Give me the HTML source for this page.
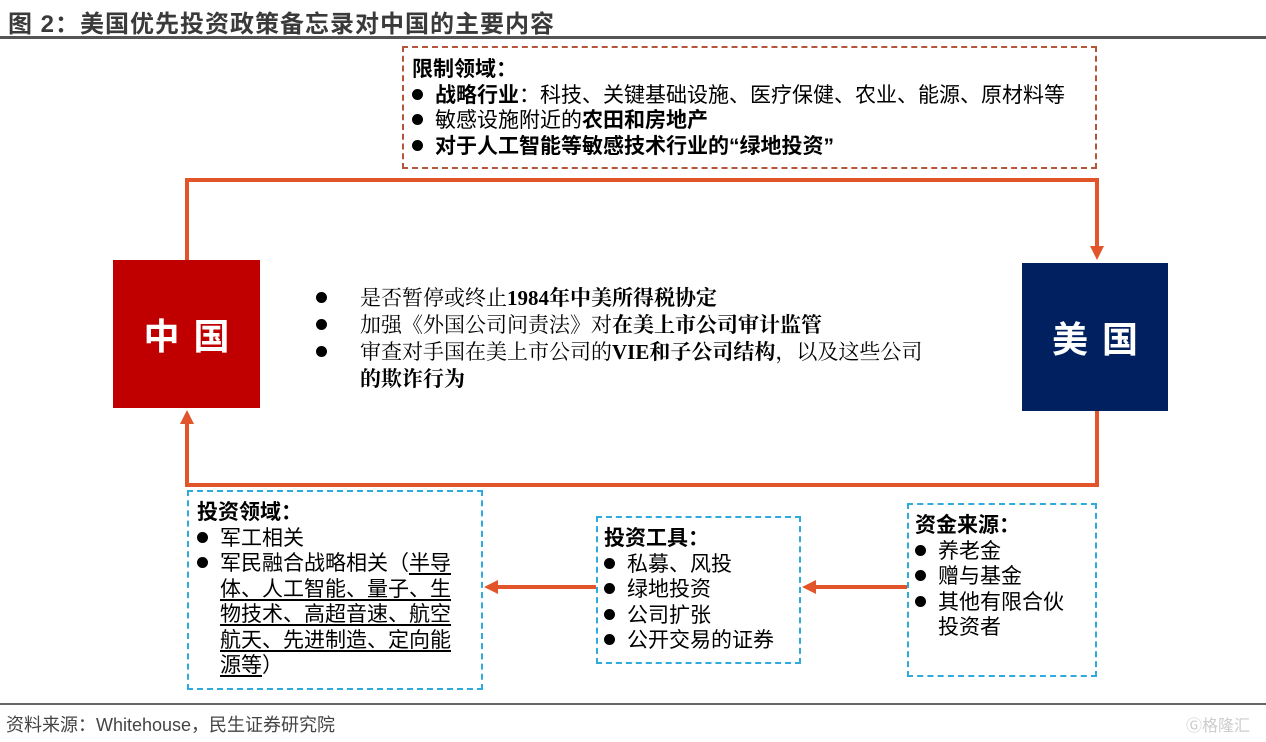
<!DOCTYPE html>
<html><head><meta charset="utf-8"><style>
body{margin:0;width:1266px;height:742px;background:#fff;position:relative;overflow:hidden;font-family:"Liberation Sans","Noto Sans CJK SC",sans-serif;color:#000}
.a{position:absolute}
.title{left:8px;top:4px;font-size:24px;font-weight:bold;color:#3a3a3a;white-space:nowrap;letter-spacing:1px}
.box{position:absolute;box-sizing:border-box}
.t{font-size:21px;line-height:25.5px;white-space:nowrap}
.b{font-weight:bold}
.bl{display:inline-block;width:11px;height:11px;border-radius:50%;background:#000;margin-right:12px;vertical-align:2px}
.serif{font-family:"Liberation Serif","Noto Serif CJK SC",serif;font-size:21px;line-height:27px;white-space:nowrap}
u{text-underline-offset:3px}
</style></head><body>
<div class="a title">图 2：美国优先投资政策备忘录对中国的主要内容</div>
<div class="a" style="left:0;top:36px;width:1266px;height:3px;background:#555"></div>

<div class="box" style="left:402px;top:46px;width:695px;height:123px;border:2px dashed #b5553a;padding:9px 0 0 8px">
<div class="t b">限制领域：</div>
<div class="t"><span class="bl"></span><b>战略行业</b>：科技、关键基础设施、医疗保健、农业、能源、原材料等</div>
<div class="t"><span class="bl"></span>敏感设施附近的<b>农田和房地产</b></div>
<div class="t b"><span class="bl"></span>对于人工智能等敏感技术行业的“绿地投资”</div>
</div>

<svg class="a" style="left:0;top:0" width="1266" height="742">
<g stroke="#e2552b" stroke-width="4" fill="none">
<polyline points="187,260 187,180 1097,180 1097,248"/>
<polyline points="1097,411 1097,485 187,485 187,422"/>
<line x1="596" y1="587" x2="496" y2="587"/>
<line x1="907" y1="587" x2="814" y2="587"/>
</g>
<g fill="#e2552b">
<polygon points="1090,246 1104,246 1097,260"/>
<polygon points="180,424 194,424 187,410"/>
<polygon points="498,580 498,594 484,587"/>
<polygon points="816,580 816,594 802,587"/>
</g>
</svg>

<div class="box" style="left:113px;top:260px;width:147px;height:148px;background:#c00000;color:#fff;font-size:36px;font-weight:bold;display:flex;align-items:center;justify-content:center;letter-spacing:14px;padding-left:14px">中国</div>
<div class="box" style="left:1022px;top:263px;width:146px;height:148px;background:#002060;color:#fff;font-size:36px;font-weight:bold;display:flex;align-items:center;justify-content:center;letter-spacing:14px;padding-left:14px">美国</div>

<div class="a serif" style="left:316px;top:285px;width:680px">
<div><span class="bl" style="margin-right:33px"></span>是否暂停或终止<b>1984年中美所得税协定</b></div>
<div><span class="bl" style="margin-right:33px"></span>加强《外国公司问责法》对<b>在美上市公司审计监管</b></div>
<div><span class="bl" style="margin-right:33px"></span>审查对手国在美上市公司的<b>VIE和子公司结构</b>，以及这些公司</div>
<div style="padding-left:44px"><b>的欺诈行为</b></div>
</div>

<div class="box" style="left:187px;top:490px;width:296px;height:200px;border:2px dashed #2eaadc;padding:8px 0 0 8px">
<div class="t b">投资领域：</div>
<div class="t"><span class="bl"></span>军工相关</div>
<div class="t"><span class="bl"></span>军民融合战略相关（<u>半导</u></div>
<div class="t" style="padding-left:23px"><u>体、人工智能、量子、生</u></div>
<div class="t" style="padding-left:23px"><u>物技术、高超音速、航空</u></div>
<div class="t" style="padding-left:23px"><u>航天、先进制造、定向能</u></div>
<div class="t" style="padding-left:23px"><u>源等</u>）</div>
</div>

<div class="box" style="left:596px;top:516px;width:205px;height:148px;border:2px dashed #2eaadc;padding:8px 0 0 6px">
<div class="t b">投资工具：</div>
<div class="t"><span class="bl"></span>私募、风投</div>
<div class="t"><span class="bl"></span>绿地投资</div>
<div class="t"><span class="bl"></span>公司扩张</div>
<div class="t"><span class="bl"></span>公开交易的证券</div>
</div>

<div class="box" style="left:907px;top:503px;width:190px;height:174px;border:2px dashed #2eaadc;padding:8px 0 0 6px">
<div class="t b">资金来源：</div>
<div class="t"><span class="bl"></span>养老金</div>
<div class="t"><span class="bl"></span>赠与基金</div>
<div class="t"><span class="bl"></span>其他有限合伙</div>
<div class="t" style="padding-left:23px">投资者</div>
</div>

<div class="a" style="left:0;top:703px;width:1266px;height:2px;background:#666"></div>
<div class="a" style="left:6px;top:711px;font-size:18px;color:#444;white-space:nowrap">资料来源：Whitehouse，民生证券研究院</div>
<div class="a" style="left:1186px;top:712px;font-size:16px;color:#ccc;white-space:nowrap">Ⓖ格隆汇</div>
</body></html>
